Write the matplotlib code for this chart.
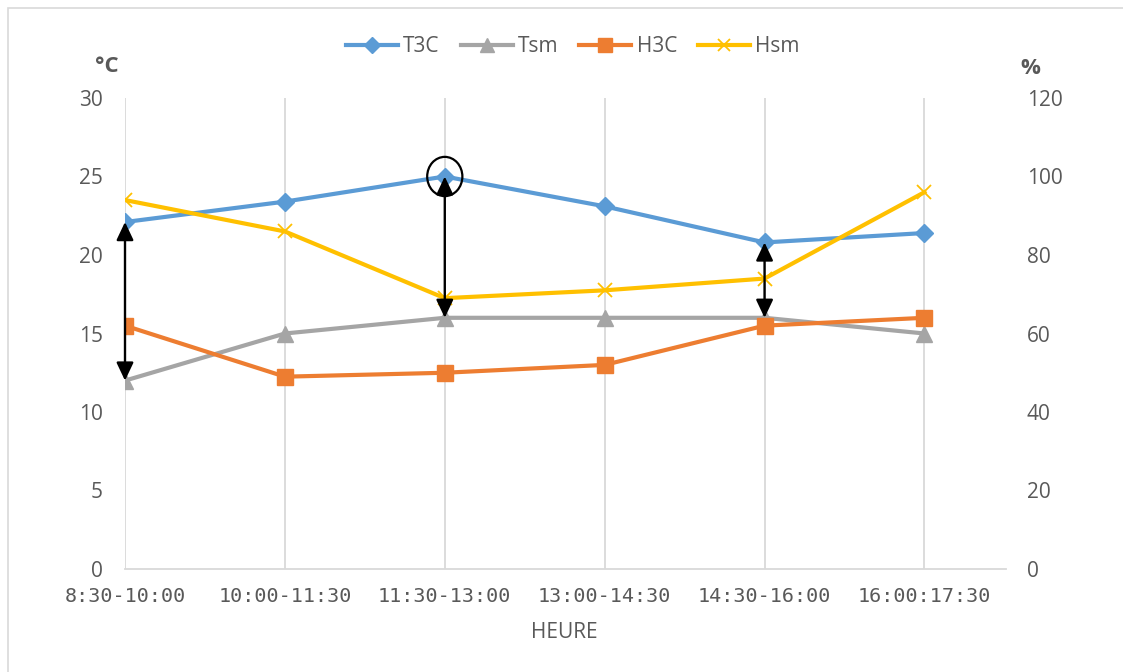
import matplotlib
matplotlib.use("Agg")
import matplotlib.pyplot as plt
from matplotlib.lines import Line2D
from matplotlib.patches import Ellipse, Rectangle

plt.rcParams['font.family'] = ['Open Sans', 'DejaVu Sans']

# Time slots and measurements
periods = ["8:30-10:00", "10:00-11:30", "11:30-13:00",
           "13:00-14:30", "14:30-16:00", "16:00:17:30"]
T3C = [22.1, 23.4, 25.0, 23.1, 20.8, 21.4]   # °C
Tsm = [12, 15, 16, 16, 16, 15]                # °C
H3C = [62, 49, 50, 52, 62, 64]                # %
Hsm = [94, 86, 69, 71, 74, 96]                # %

# indices where the temperature gap is highlighted with double arrows
gap_idx = [0, 2, 4]
peak_idx = 2

TXT = "#595959"
GRID = "#d9d9d9"
C_T3C, C_TSM, C_H3C, C_HSM = "#5B9BD5", "#A5A5A5", "#ED7D31", "#FFC000"

fig = plt.figure(figsize=(11.23, 6.72), dpi=100)
fig.patches.append(Rectangle((8 / 1123, -0.1), 1.2, 1 - 8 / 672 + 0.1,
                             transform=fig.transFigure, fill=False,
                             edgecolor=GRID, linewidth=1.2))

ax = fig.add_axes([125 / 1123, 1 - 569 / 672, 881 / 1123, 471 / 672])
ax2 = ax.twinx()

x = list(range(len(periods)))

ax.plot(x, T3C, color=C_T3C, lw=3, marker='D', ms=9.2, label="T3C", zorder=3)
ax.plot(x, Tsm, color=C_TSM, lw=3, marker='^', ms=12, label="Tsm", zorder=3)
ax2.plot(x, H3C, color=C_H3C, lw=3, marker='s', ms=11.5, label="H3C", zorder=3)
ax2.plot(x, Hsm, color=C_HSM, lw=3, marker='x', ms=10, mew=1.3, label="Hsm", zorder=3)

# double arrows between the two temperature series
for i in gap_idx:
    ax2.annotate("", xy=(i, T3C[i]), xytext=(i, Tsm[i]),
                 xycoords=ax.transData, textcoords=ax.transData,
                 arrowprops=dict(arrowstyle="<|-|>,head_length=1.1,head_width=0.52",
                                 color="black", lw=1.7, shrinkA=0, shrinkB=0,
                                 mutation_scale=10),
                 zorder=5)

# ring around the temperature peak
ax2.add_patch(Ellipse((peak_idx, T3C[peak_idx]), width=0.22, height=2.5,
                      transform=ax.transData, fill=False,
                      edgecolor="black", lw=1.6, zorder=6))

ax.set_xlim(0, 5.51)
ax.set_ylim(0, 30)
ax2.set_ylim(0, 120)
ax.set_xticks(x)
ax.set_xticklabels(periods, family=['DejaVu Sans Mono'])
ax.set_yticks(range(0, 31, 5))
ax2.set_yticks(range(0, 121, 20))

ax.grid(axis='x', color=GRID, lw=1.3)
ax.set_axisbelow(True)

for a in (ax, ax2):
    for s in ("top", "left", "right"):
        a.spines[s].set_visible(False)
    a.spines["bottom"].set_color(GRID)
    a.spines["bottom"].set_linewidth(1.3)
ax2.spines["bottom"].set_visible(False)

ax.tick_params(axis='x', length=0, pad=13, labelsize=14.5, labelcolor=TXT)
ax.tick_params(axis='y', length=0, pad=16, labelsize=15, labelcolor=TXT)
ax2.tick_params(axis='y', length=0, pad=15, labelsize=15, labelcolor=TXT)

fig.text(107 / 1123, 1 - 67 / 672, "°C", ha='center', va='center',
         fontsize=16, fontweight='bold', color=TXT)
fig.text(1030 / 1123, 1 - 68 / 672, "%", ha='center', va='center',
         fontsize=16, fontweight='bold', color=TXT)
fig.text(564 / 1123, 1 - 632 / 672, "HEURE", ha='center', va='center',
         fontsize=15, color=TXT)

handles = [
    Line2D([], [], color=C_T3C, lw=3, marker='D', ms=8),
    Line2D([], [], color=C_TSM, lw=3, marker='^', ms=10),
    Line2D([], [], color=C_H3C, lw=3, marker='s', ms=9.5),
    Line2D([], [], color=C_HSM, lw=3, marker='x', ms=9, mew=1.3),
]
leg = fig.legend(handles, ["T3C", "Tsm", "H3C", "Hsm"], loc='center',
                 bbox_to_anchor=(0.510, 1 - 47 / 672), ncol=4, frameon=False,
                 fontsize=15, handlelength=2.5, handletextpad=0.25,
                 columnspacing=1.0, labelcolor=TXT)

fig.savefig("out.png", dpi=100)
